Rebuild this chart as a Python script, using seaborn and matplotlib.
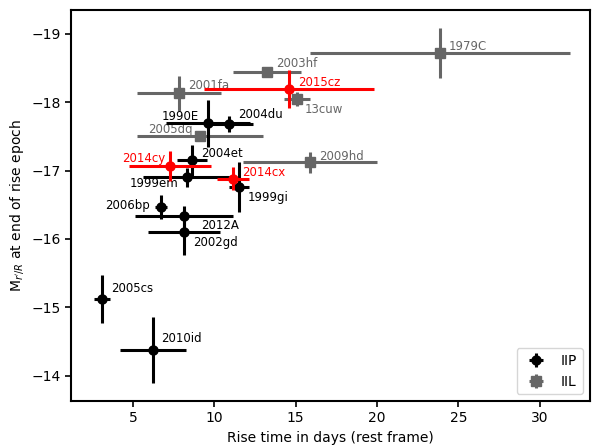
import matplotlib
matplotlib.use("Agg")
import matplotlib.pyplot as plt
import seaborn as sns
import pandas as pd

# ---- data ----
iip_names = ['1990E', '2004du', '2004et', '1999em', '1999gi', '2006bp', '2012A', '2002gd', '2005cs', '2010id']
iip_rise = [9.61, 10.90, 8.63, 8.32, 11.52, 6.72, 8.14, 8.14, 3.09, 6.23]
iip_rise_err = [2.6, 1.5, 0.9, 2.7, 0.6, 0.35, 3.0, 2.2, 0.5, 2.0]
iip_mag = [-17.69, -17.68, -17.15, -16.90, -16.76, -16.47, -16.33, -16.10, -15.12, -14.38]
iip_mag_err = [0.34, 0.12, 0.23, 0.14, 0.37, 0.18, 0.15, 0.34, 0.35, 0.48]

iil_names = ['2001fa', '2005dq', '2003hf', '13cuw', '1979C', '2009hd']
iil_rise = [7.83, 9.12, 13.24, 15.09, 23.88, 15.89]
iil_rise_err = [2.6, 3.9, 2.1, 0.8, 8.0, 4.1]
iil_mag = [-18.13, -17.50, -18.45, -18.05, -18.72, -17.12]
iil_mag_err = [0.26, 0.05, 0.05, 0.10, 0.37, 0.15]

new_names = ['2014cy', '2014cx', '2015cz']
new_rise = [7.28, 11.15, 14.59]
new_rise_err = [2.5, 1.0, 5.25]
new_mag = [-17.07, -16.88, -18.19]
new_mag_err = [0.22, 0.17, 0.28]

x_ticks = [5, 10, 15, 20, 25, 30]
y_ticks = [-19, -18, -17, -16, -15, -14]

# ---- styling ----
GREY = '#666666'
label_style = {  # name: (dx px, dy px, ha)
    '2001fa': (9, 8, 'left'), '2003hf': (9, 8, 'left'), '2015cz': (9, 7, 'left'),
    '13cuw': (8, -11, 'left'), '1979C': (9, 7, 'left'), '1990E': (-9, 7, 'right'),
    '2004du': (9, 10, 'left'), '2005dq': (-7, 7, 'right'), '2004et': (9, 7, 'left'),
    '2014cy': (-5, 7, 'right'), '1999em': (-9, -6, 'right'), '2014cx': (9, 6, 'left'),
    '1999gi': (9, -10, 'left'), '2009hd': (9, 6, 'left'), '2006bp': (-11, 1, 'right'),
    '2012A': (17, -9, 'left'), '2002gd': (9, -10, 'left'), '2005cs': (9, 11, 'left'),
    '2010id': (8, 11, 'left'),
}

sns.set_style("ticks")
plt.rcParams['font.family'] = ['DejaVu Sans']
plt.rcParams['text.color'] = 'black'
plt.rcParams['axes.labelcolor'] = 'black'

fig = plt.figure(figsize=(5.92, 4.47), dpi=100)
ax = fig.add_axes([71 / 592, (447 - 401) / 447, (590 - 71) / 592, (401 - 10) / 447])

groups = [
    (iil_names, iil_rise, iil_rise_err, iil_mag, iil_mag_err, GREY, 's', 'IIL'),
    (iip_names, iip_rise, iip_rise_err, iip_mag, iip_mag_err, 'black', 'o', 'IIP'),
    (new_names, new_rise, new_rise_err, new_mag, new_mag_err, 'red', 'o', None),
]

handles = {}
z = 2
for names, x, xe, y, ye, col, mk, lab in groups:
    cont = ax.errorbar(x, y, xerr=xe, yerr=ye, fmt=mk, color=col, ms=6.5,
                       elinewidth=2.2, capsize=0, label=lab, zorder=z)
    if lab:
        handles[lab] = cont
    df = pd.DataFrame({'rise': x, 'mag': y})
    sns.scatterplot(data=df, x='rise', y='mag', ax=ax, color=col, marker=mk,
                    s=6.5 ** 2, linewidth=0, legend=False, zorder=z + 0.5)
    for n, xi, yi in zip(names, x, y):
        dx, dy, ha = label_style[n]
        ax.annotate(n, (xi, yi), xytext=(dx, dy), textcoords='offset pixels',
                    ha=ha, va='center', fontsize=8.5, color=col, zorder=z + 1)
    z += 2

ax.set_xlim(1.19, 33.1)
ax.set_ylim(-13.63, -19.35)
ax.set_xticks(x_ticks)
ax.set_yticks(y_ticks)
ax.tick_params(labelsize=10, length=4, width=1.2, color='black', labelcolor='black')
for sp in ax.spines.values():
    sp.set_visible(True)
    sp.set_linewidth(1.5)
    sp.set_color('black')

ax.set_xlabel('Rise time in days (rest frame)', fontsize=10, color='black')
ax.set_ylabel("M$_{r'/R}$ at end of rise epoch", fontsize=10, color='black')

leg = ax.legend([handles['IIP'], handles['IIL']], ['IIP', 'IIL'], loc='lower right',
                fontsize=10, frameon=True)
for t in leg.get_texts():
    t.set_color('black')

fig.savefig('out.png', dpi=100)
